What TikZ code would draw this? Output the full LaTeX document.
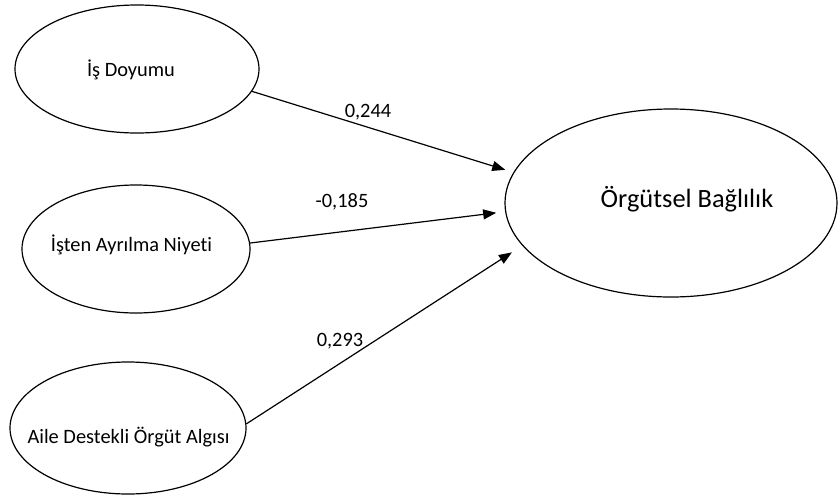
\documentclass[tikz,border=0pt]{standalone}
\usepackage{fontspec}
\setmainfont{Carlito}[Ligatures=NoCommon]
\usetikzlibrary{shapes.geometric,arrows.meta}
\begin{document}
\begin{tikzpicture}[x=1pt,y=-1pt,
  oval/.style={ellipse,draw,line width=1.2pt,inner sep=0pt},
  lbl/.style={anchor=base,inner sep=0pt,font=\fontsize{20.4}{24}\selectfont},
  biglbl/.style={anchor=base,inner sep=0pt,font=\fontsize{26.4}{30}\selectfont},
  arr/.style={line width=1.2pt,-{Triangle[length=13pt,width=10pt]}}]
\useasboundingbox (0,0) rectangle (838,496);
% ellipses
\node[oval,minimum width=244pt,minimum height=128pt] (ij) at (137,69) {};
\node[oval,minimum width=228pt,minimum height=128pt] (it) at (136,249) {};
\node[oval,minimum width=236pt,minimum height=132pt] (ad) at (128,428) {};
\node[oval,minimum width=332pt,minimum height=188pt] (ob) at (671,203) {};
% texts
\node[lbl] (tij) at (131,76) {İş Doyumu};
\node[lbl] (tit) at (131.5,251) {İşten Ayrılma Niyeti};
\node[lbl] (tad) at (128.5,443) {Aile Destekli Örgüt Algısı};
\node[biglbl] (tob) at (687,207) {Örgütsel Bağlılık};
% connectors
\draw[arr,shorten >=8.5pt] (ij.-11.5) -- (ob.169.1);
\draw[arr,shorten >=9pt] (it.3) -- (ob.183.8);
\draw[arr,shorten >=12.4pt] (ad.2.4) -- (ob.196.4);
% coefficients
\node[lbl] (c1) at (368,117) {0,244};
\node[lbl] (c2) at (342,207) {-0,185};
\node[lbl] (c3) at (340,346) {0,293};
\end{tikzpicture}
\end{document}
